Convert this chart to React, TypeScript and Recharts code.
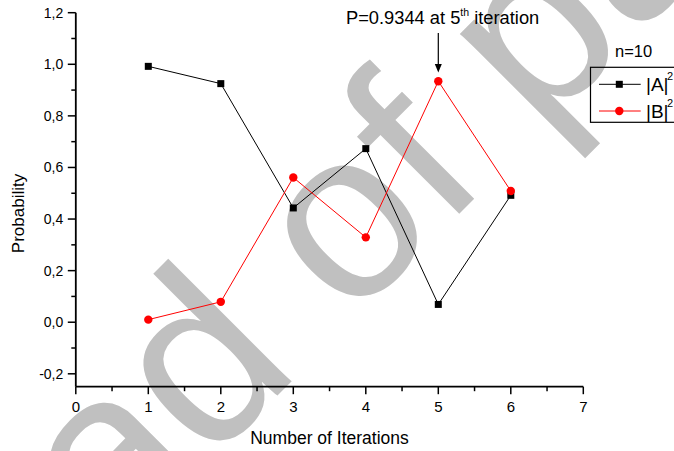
import { LineChart, Line, XAxis, YAxis } from 'recharts';

const iterations = [1, 2, 3, 4, 5, 6];
const probA = [0.992, 0.925, 0.443, 0.673, 0.069, 0.492];
const probB = [0.01, 0.079, 0.561, 0.329, 0.9344, 0.509];

const xTicks = [0, 0.5, 1, 1.5, 2, 2.5, 3, 3.5, 4, 4.5, 5, 5.5, 6, 6.5, 7];
const yTicks = [-0.2, -0.1, 0, 0.1, 0.2, 0.3, 0.4, 0.5, 0.6, 0.7, 0.8, 0.9, 1, 1.1, 1.2];
const yLabels = ['-0,2', '0,0', '0,2', '0,4', '0,6', '0,8', '1,0', '1,2'];

const data = iterations.map((it, i) => ({ iter: it, a: probA[i], b: probB[i] }));

const FONT = '"Liberation Sans", Arial, sans-serif';

const XTick = ({ x, y, payload }: any) => {
  const major = Number.isInteger(payload.value);
  return (
    <g>
      <line x1={x} x2={x} y1={y} y2={y + (major ? 7.5 : 4.5)} stroke="#000" strokeWidth={1.5} />
      {major && (
        <text x={x} y={y + 25.5} textAnchor="middle" fontSize={15} fontFamily={FONT} fill="#000">
          {payload.value}
        </text>
      )}
    </g>
  );
};

const YTick = ({ x, y, payload }: any) => {
  const idx = yTicks.indexOf(payload.value);
  const major = idx % 2 === 0;
  return (
    <g>
      <line x1={x} x2={x - (major ? 8 : 4.5)} y1={y} y2={y} stroke="#000" strokeWidth={1.5} />
      {major && (
        <text x={x - 12.5} y={y + 5} textAnchor="end" fontSize={14} fontFamily={FONT} fill="#000">
          {yLabels[idx / 2]}
        </text>
      )}
    </g>
  );
};

const SquareDot = ({ cx, cy }: any) => (
  <rect x={cx - 3.5} y={cy - 3.5} width={7} height={7} fill="#000" />
);

const RoundDot = ({ cx, cy }: any) => <circle cx={cx} cy={cy} r={4.2} fill="#ff0000" />;

export default function App() {
  return (
    <div style={{ position: 'absolute', left: 0, top: 0, width: 674, height: 451, overflow: 'hidden', background: '#fff' }}>
      {/* watermark behind everything */}
      <svg width={674} height={451} style={{ position: 'absolute', left: 0, top: 0 }}>
        <text
          x={-103}
          y={776}
          transform="rotate(-45 -103 776)"
          fontSize={240}
          fontFamily={FONT}
          fill="#c0c0c0"
        >
          Read of paper
        </text>
      </svg>

      <div style={{ position: 'absolute', left: 0, top: 0 }}>
        <LineChart width={674} height={451} data={data} margin={{ top: 12.7, right: 90.7, bottom: 34.3, left: 0 }}>
          <XAxis
            type="number"
            dataKey="iter"
            domain={[0, 7]}
            ticks={xTicks}
            interval={0}
            height={30}
            tickSize={0}
            tickMargin={0}
            tick={<XTick />}
            axisLine={{ stroke: '#000', strokeWidth: 1.8 }}
          />
          <YAxis
            type="number"
            domain={[-0.25, 1.2]}
            ticks={yTicks}
            interval={0}
            width={75.8}
            tickSize={0}
            tickMargin={0}
            tick={<YTick />}
            allowDataOverflow
            axisLine={{ stroke: '#000', strokeWidth: 1.8 }}
          />
          <Line
            type="linear"
            dataKey="a"
            stroke="#000"
            strokeWidth={1}
            dot={<SquareDot />}
            isAnimationActive={false}
          />
          <Line
            type="linear"
            dataKey="b"
            stroke="#ff0000"
            strokeWidth={1}
            dot={<RoundDot />}
            isAnimationActive={false}
          />
        </LineChart>
      </div>

      <svg width={674} height={451} style={{ position: 'absolute', left: 0, top: 0, pointerEvents: 'none' }} fontFamily={FONT}>
        {/* axis titles */}
        <text x={329.5} y={444} textAnchor="middle" fontSize={17.5}>
          Number of Iterations
        </text>
        <text x={24} y={213.5} textAnchor="middle" fontSize={17} transform="rotate(-90 24 213.5)">
          Probability
        </text>

        {/* annotation */}
        <text x={346} y={23.5} fontSize={18.3}>
          P=0.9344 at 5
          <tspan fontSize={10.5} dy={-7.5}>th</tspan>
          <tspan dy={7.5}> iteration</tspan>
        </text>
        <line x1={438.3} x2={438.3} y1={33} y2={66} stroke="#000" strokeWidth={1.2} />
        <path d="M434.8 64 L441.8 64 L438.3 72.5 Z" fill="#000" />

        {/* legend */}
        <text x={615} y={56.7} fontSize={16.5}>n=10</text>
        <rect x={590.5} y={67.3} width={100} height={55} fill="none" stroke="#000" strokeWidth={1.2} />
        <line x1={599} x2={640.7} y1={84.3} y2={84.3} stroke="#000" strokeWidth={1} />
        <rect x={615.8} y={80.8} width={7} height={7} fill="#000" />
        <text x={646} y={91} fontSize={19}>|A|</text>
        <text x={667} y={80} fontSize={11}>2</text>
        <line x1={599} x2={640.7} y1={111} y2={111} stroke="#ff0000" strokeWidth={1} />
        <circle cx={619.3} cy={111} r={4.2} fill="#ff0000" />
        <text x={646} y={117.7} fontSize={19}>|B|</text>
        <text x={667} y={106.5} fontSize={11}>2</text>
      </svg>
    </div>
  );
}
